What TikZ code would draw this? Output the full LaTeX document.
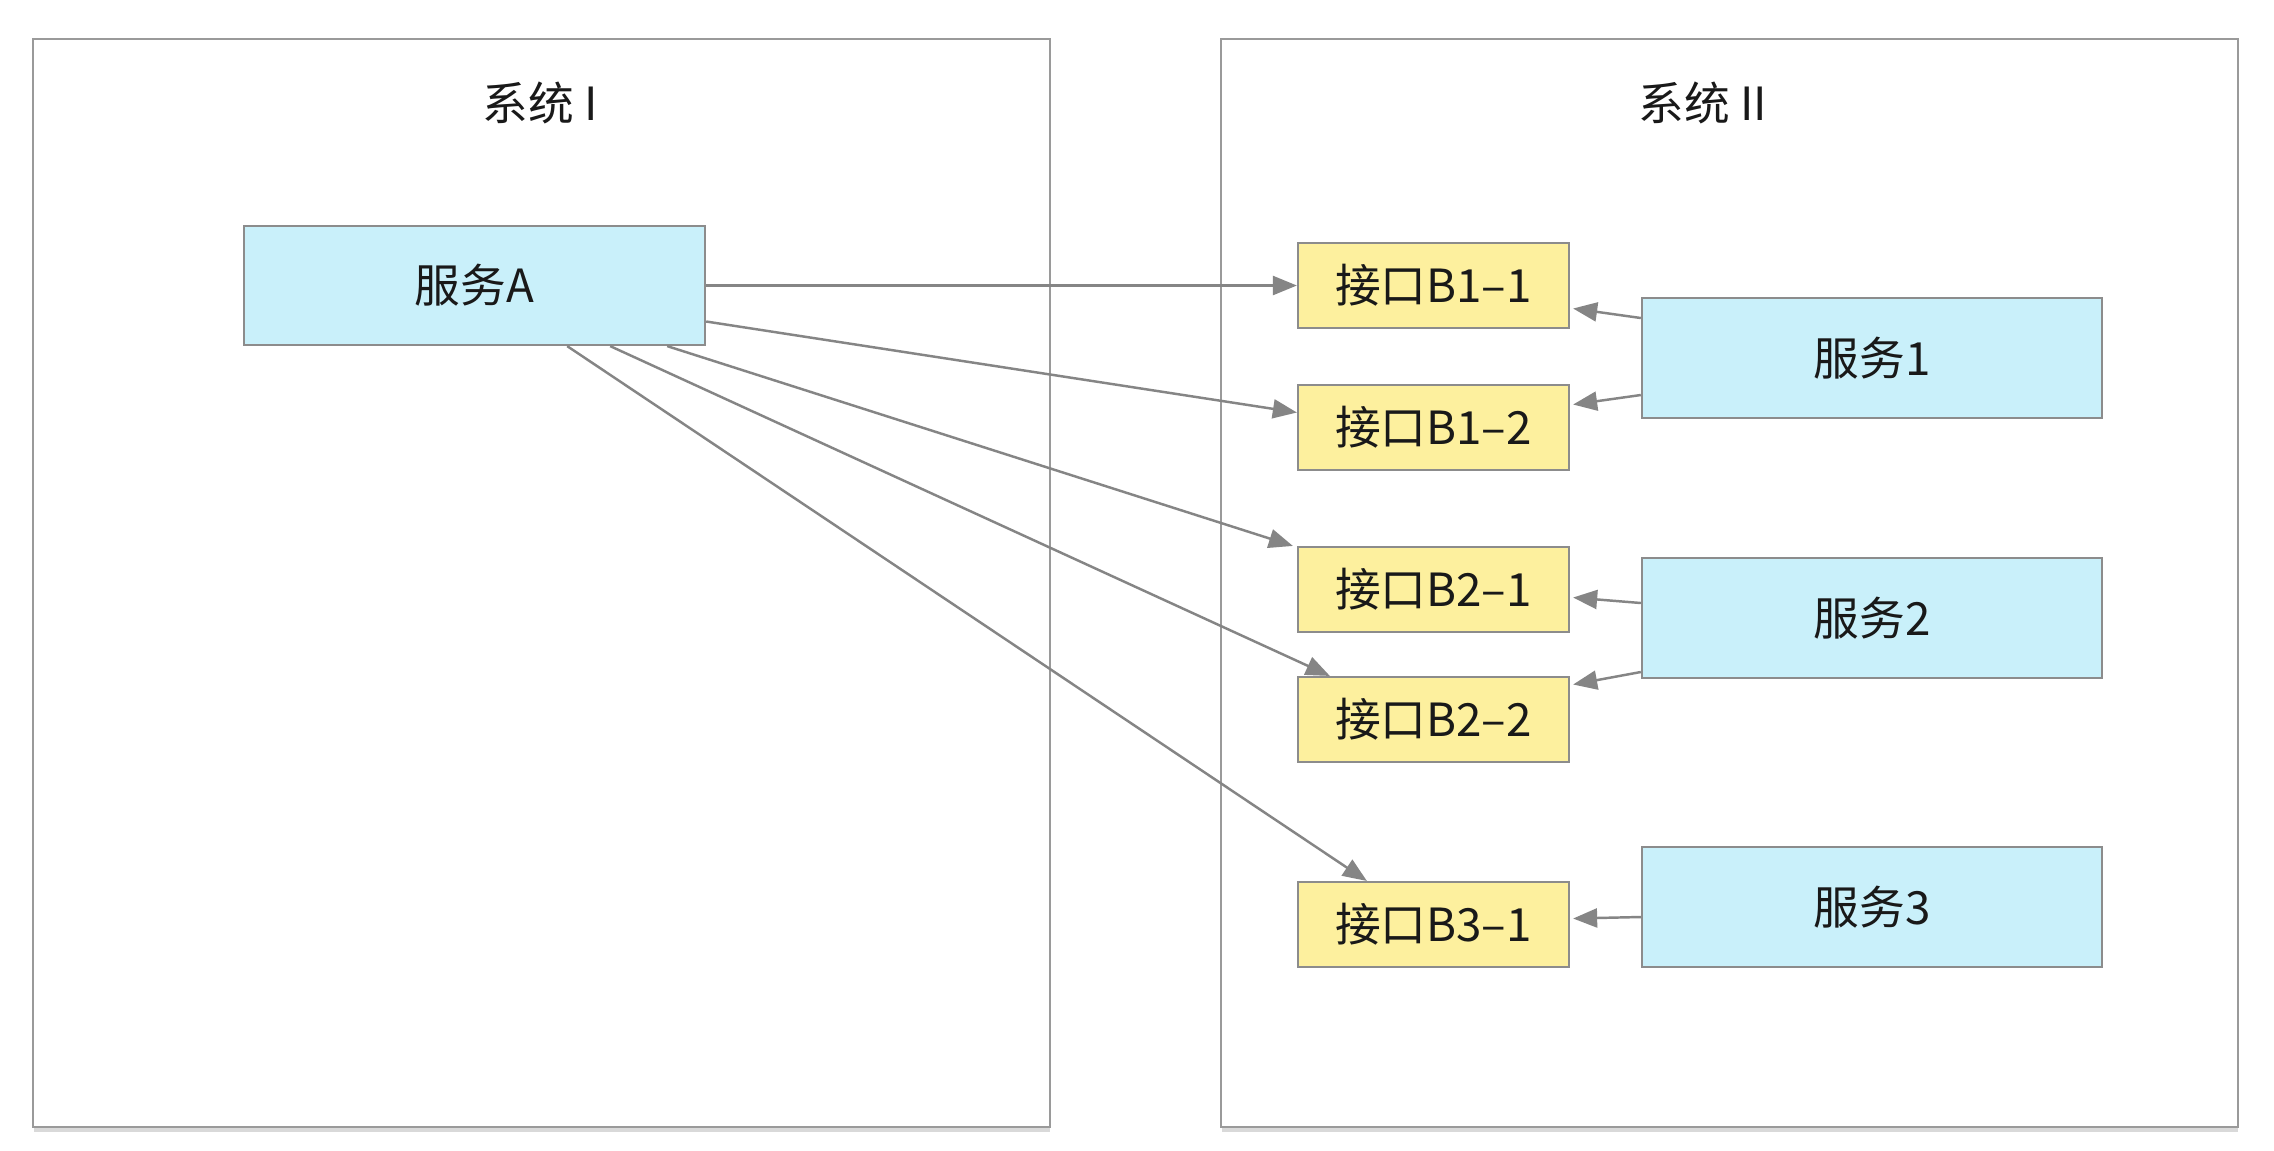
\documentclass[tikz,border=0pt]{standalone}
\usepackage{fontspec}
\newfontfamily\cjk{Noto Sans CJK SC}
\usetikzlibrary{arrows.meta,calc}
\definecolor{svcblue}{HTML}{C9F0FA}
\definecolor{ifyellow}{HTML}{FDF09E}
\definecolor{edgegray}{HTML}{8C8C8C}
\definecolor{framegray}{HTML}{9A9A9A}
\definecolor{arrowgray}{HTML}{858585}
\begin{document}
\begin{tikzpicture}[x=0.01cm,y=-0.01cm,
  every node/.style={font=\cjk\fontsize{13}{15}\selectfont, text=black!90},
  frame/.style={draw=framegray, line width=0.6pt, fill=white, minimum width=10.17cm, minimum height=10.88cm, inner sep=0pt},
  svc/.style={draw=edgegray, line width=0.6pt, fill=svcblue, minimum width=4.6cm, minimum height=1.2cm, inner sep=0pt},
  iface/.style={draw=edgegray, line width=0.6pt, fill=ifyellow, minimum width=2.71cm, minimum height=0.85cm, inner sep=0pt},
  link/.style={draw=arrowgray, line width=0.7pt, -{Triangle[length=0.24cm,width=0.19cm]}}
]
\useasboundingbox (0,0) rectangle (2274,1150);
\fill[white] (0,0) rectangle (2274,1150);
% frame shadows
\draw[black!15, line width=1.2pt] (34,1129.5) -- (1050,1129.5);
\draw[black!15, line width=1.2pt] (1222,1129.5) -- (2238,1129.5);
\node[frame] (sys1) at (541.5,583) {};
\node[frame] (sys2) at (1729.5,583) {};
\node (t1) at (540,103) {系统 I};
\node (t2) at (1703,103) {系统 II};

\node[svc, minimum width=4.61cm, minimum height=1.19cm] (A) at (474.5,285.5) {服务A};

\node[iface] (b11) at (1433.5,285.5) {接口B1–1};
\node[iface] (b12) at (1433.5,427.5) {接口B1–2};
\node[iface] (b21) at (1433.5,589.5) {接口B2–1};
\node[iface] (b22) at (1433.5,719.5) {接口B2–2};
\node[iface] (b31) at (1433.5,924.5) {接口B3–1};

\node[svc] (s1) at (1872,358) {服务1};
\node[svc] (s2) at (1872,618) {服务2};
\node[svc] (s3) at (1872,907) {服务3};

% from service A
\draw[link] (A.east) -- (b11.west);
\draw[link] ($(A.east)+(0,36)$) -- ($(b12.west)+(0,-15)$);
\draw[link] ($(A.south east)+(-39,0)$) -- ($(b21.north west)+(-4,0)$);
\draw[link] ($(A.south east)+(-96,0)$) -- ($(b22.north west)+(33,0)$);
\draw[link] ($(A.south east)+(-139,0)$) -- ($(b31.north west)+(70,0)$);

% from services to interfaces
\draw[link] ($(s1.west)+(0,-40)$) -- ($(b11.east)+(3,23)$);
\draw[link] ($(s1.west)+(0,37)$) -- ($(b12.east)+(3,-23)$);
\draw[link] ($(s2.west)+(0,-15)$) -- ($(b21.east)+(3,8)$);
\draw[link] ($(s2.west)+(0,54)$) -- ($(b22.east)+(3,-35)$);
\draw[link] ($(s3.west)+(0,10)$) -- ($(b31.east)+(3,-6)$);
\end{tikzpicture}
\end{document}
